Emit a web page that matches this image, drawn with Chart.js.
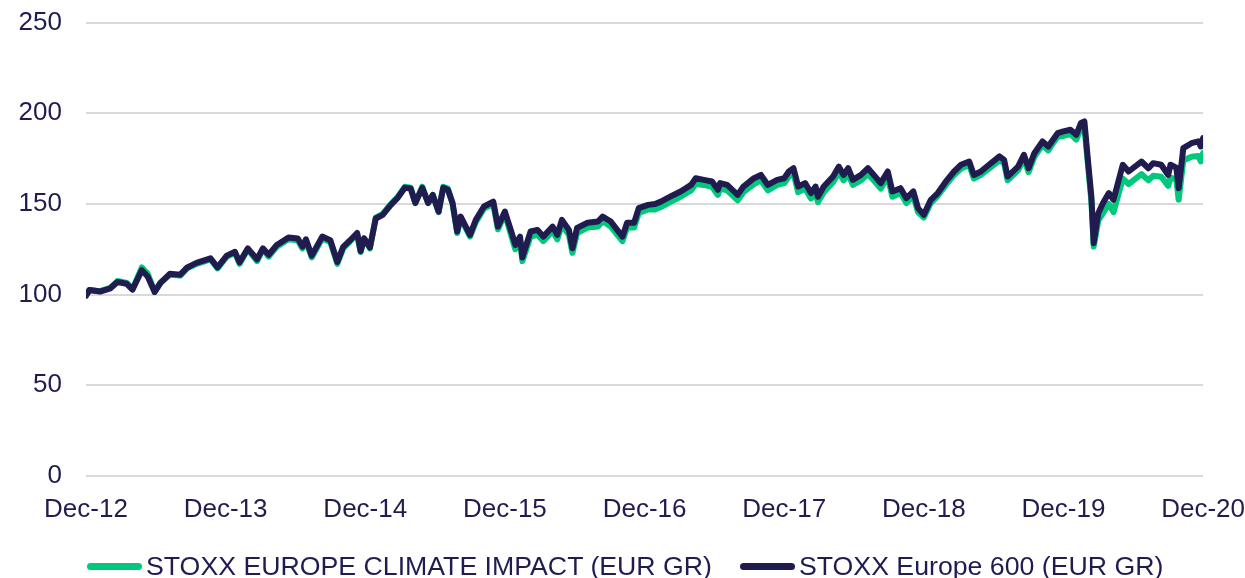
<!DOCTYPE html>
<html>
<head>
<meta charset="utf-8">
<script src="https://cdn.jsdelivr.net/npm/chart.js@4/dist/chart.umd.min.js"></script>
<style>
  html, body { margin: 0; padding: 0; background: #fff; overflow: hidden; }
  #page { position: relative; width: 1245px; height: 578px; overflow: hidden; }
  #wrap { position: absolute; left: 0; top: -17px; width: 1263px; height: 595px; }
  #legend {
    position: absolute; left: 87px; top: 551px;
    display: flex; align-items: center;
    font-family: 'Liberation Sans', Arial, sans-serif; font-size: 26.7px; color: #201c50;
    white-space: nowrap;
  }
  .item { display: flex; align-items: center; margin-right: 28px; }
  .swatch { display: inline-block; width: 55px; height: 7px; border-radius: 4px; margin-right: 4px; }
</style>
</head>
<body>
<div id="page">
  <div id="wrap"><canvas id="perfChart"></canvas></div>
  <div id="legend"></div>
</div>
<script>
// months since Dec-12
const months = [0, 0.3, 1.2, 2.1, 2.7, 3.5, 4.0, 4.8, 5.3, 5.9, 6.4, 7.2, 8.1, 8.7, 9.5, 10.7, 11.3,
  12.1, 12.8, 13.2, 13.9, 14.7, 15.2, 15.7, 16.4, 17.4, 18.2, 18.6, 18.9, 19.4, 20.3, 21.0, 21.6, 22.1, 22.7, 23.3, 23.6, 23.9,
  24.4, 24.9, 25.5, 26.2, 26.8, 27.4, 27.9, 28.3, 28.9, 29.4, 29.8, 30.3, 30.7, 31.1, 31.5, 31.9, 32.2, 33.0, 33.5, 34.2, 35.0, 35.4,
  36.0, 36.5, 36.9, 37.3, 37.5, 38.2, 38.8, 39.3, 40.1, 40.5, 40.9, 41.5, 41.8, 42.2, 43.1, 44.0, 44.4, 45.1, 46.1, 46.5, 47.1, 47.5,
  48.3, 48.9, 49.4, 50.2, 51.1, 52.0, 52.4, 53.1, 53.8, 54.3, 54.5, 55.1, 56.0, 56.5, 57.4, 58.0, 58.6, 59.4,
  60.0, 60.4, 60.8, 61.2, 61.8, 62.3, 62.7, 62.9, 63.4, 64.2, 64.7, 65.1, 65.5, 65.9, 66.6, 67.2, 67.7, 68.3, 68.9, 69.3, 70.0, 70.5, 71.1, 71.5,
  72.0, 72.6, 73.2, 73.9, 74.6, 75.2, 75.9, 76.3, 76.9, 77.6, 78.5, 78.9, 79.2, 80.1, 80.6, 81.0, 81.5, 82.2, 82.7, 83.1, 83.5,
  84.0, 84.6, 85.1, 85.5, 85.8, 86.1, 86.4, 86.6, 87.0, 87.4, 87.9, 88.3, 89.1, 89.6, 90.7, 91.3, 91.7, 92.4, 93.0, 93.2, 93.7, 93.9,
  94.3, 95.0, 95.6, 95.8, 96.0];

const climateImpact = [99.5, 102.6, 101.9, 103.8, 107.5, 106.5, 103, 115, 111.5, 101.5, 106.5, 111, 110.5, 114.5, 117, 119.5, 114.5,
  121, 123, 117, 125, 118.5, 125, 121, 126.5, 130.5, 130, 125.5, 129.5, 120.5, 131, 129, 117, 125.5, 129.5, 133.5, 123.5, 131,
  125.5, 142.5, 144.5, 150, 154, 159.5, 159, 150.5, 159.5, 150.5, 155, 145.5, 159.5, 158.5, 150, 134, 142.5, 132, 140, 147.5, 150, 136,
  144.5, 133.5, 125, 129.5, 118.5, 132, 133, 129.5, 135, 130.5, 138.5, 133, 123, 134, 137, 137.5, 140.5, 137.5, 129.5, 137, 137, 145,
  147, 147, 148.3, 151, 154, 157.5, 161, 160.5, 159.5, 155, 158.5, 157.5, 152, 156.5, 161, 163, 157.5, 160.5,
  161.5, 165, 167, 156.5, 158.5, 153, 156.5, 151, 156.5, 162, 167.5, 163, 166.5, 160.5, 163, 166.5, 163, 158.5, 165, 154, 156, 150.5, 154.5, 145.5,
  142.5, 150.5, 154.5, 160.5, 166, 169.5, 171.5, 164, 166, 169.5, 174, 172.5, 163, 168.5, 175, 167.5, 176, 182.5, 179.5, 183.5, 187,
  187.5, 188.5, 185.5, 191.5, 192.5, 172, 151.5, 126.5, 141, 145, 150, 145.5, 164, 161, 166.5, 163, 165.5, 165, 160, 164.5, 163.5, 152.3,
  174, 176, 176.5, 173.5, 178];

const europe600 = [99.5, 102.6, 101.7, 103.5, 107, 106, 102.8, 113.5, 110, 101.5, 106.5, 111.5, 111, 115, 117.5, 120, 115,
  121.5, 123.6, 117.8, 125.5, 119.5, 125.5, 122, 127.4, 131.5, 131, 126.5, 130.5, 121.5, 132, 130, 118, 126.3, 130, 134, 124, 131,
  126, 142, 144, 149.5, 153.5, 158.9, 158.5, 150.6, 158.9, 150.6, 155, 145.8, 158.9, 157.8, 150.6, 134.8, 143, 133, 141.2, 148.6, 151.3, 137.5,
  145.8, 135.7, 127.4, 132, 120.5, 134.8, 135.7, 132, 137.5, 133, 141.2, 135.7, 125.6, 136.8, 139.6, 140.3, 143, 140.3, 132, 139.6, 139.6, 147.7,
  149.5, 150, 151.3, 154, 156.9, 160.5, 164.2, 163.3, 162.4, 157.8, 161.5, 160.5, 155, 159.6, 164.2, 166, 160.5, 163.3,
  164.2, 167.9, 169.7, 159.6, 161.5, 156, 159.6, 154, 159.6, 165.1, 170.6, 166, 169.7, 163.3, 166, 169.7, 166, 161.5, 167.9, 156.9, 158.7, 153.2, 156.9, 147.7,
  144, 152.3, 156, 162.4, 167.9, 171.6, 173.4, 166, 167.9, 171.6, 176.2, 174.3, 165.1, 170.6, 177.1, 169.7, 178, 184.5, 181.7, 185.4, 189,
  190, 190.9, 188.1, 194.6, 195.5, 174.3, 154, 128.4, 145, 150.5, 156, 152.3, 171.6, 167.9, 173.4, 169.7, 172.5, 171.6, 166, 171.6, 170, 158.7,
  180.8, 183.5, 184.5, 181.7, 186.3];

const tickLabels = ['Dec-12', 'Dec-13', 'Dec-14', 'Dec-15', 'Dec-16', 'Dec-17', 'Dec-18', 'Dec-19', 'Dec-20'];
const seriesNames = ['STOXX EUROPE CLIMATE IMPACT (EUR GR)', 'STOXX Europe 600 (EUR GR)'];
const colors = ['#00c97b', '#201c50'];
const textColor = '#201c50';

function toPoints(values) {
  return values.map((v, i) => ({ x: months[i], y: v }));
}

Chart.defaults.font.family = "'Liberation Sans', Arial, sans-serif";
Chart.defaults.font.size = 26;
Chart.defaults.color = textColor;

const ctx = document.getElementById('perfChart').getContext('2d');
const chart = new Chart(ctx, {
  type: 'line',
  data: {
    datasets: [
      {
        label: seriesNames[0],
        data: toPoints(climateImpact),
        borderColor: colors[0],
        borderWidth: 6,
        pointRadius: 0,
        tension: 0,
        borderJoinStyle: 'round',
        borderCapStyle: 'round',
        order: 1
      },
      {
        label: seriesNames[1],
        data: toPoints(europe600),
        borderColor: colors[1],
        borderWidth: 6,
        pointRadius: 0,
        tension: 0,
        borderJoinStyle: 'round',
        borderCapStyle: 'round',
        order: 0
      }
    ]
  },
  options: {
    responsive: true,
    maintainAspectRatio: false,
    animation: false,
    layout: { padding: { top: 6, right: 24, left: 0, bottom: 0 } },
    plugins: { legend: { display: false }, tooltip: { enabled: false } },
    scales: {
      x: {
        type: 'linear',
        min: 0,
        max: 96,
        grid: { display: false, drawTicks: false },
        border: { display: false },
        ticks: {
          stepSize: 12,
          autoSkip: false,
          maxRotation: 0,
          padding: 18,
          color: textColor,
          callback: (v) => tickLabels[v / 12]
        },
        afterFit: (scale) => { scale.height = 102; }
      },
      y: {
        min: 0,
        max: 250,
        grid: { color: '#d9d9d9', lineWidth: 2, drawTicks: false },
        border: { display: false },
        ticks: { stepSize: 50, padding: 24, color: textColor },
        afterFit: (scale) => { scale.width = 86; }
      }
    }
  }
});

// legend below the chart
const legend = document.getElementById('legend');
seriesNames.forEach((name, i) => {
  const item = document.createElement('div');
  item.className = 'item';
  const sw = document.createElement('span');
  sw.className = 'swatch';
  sw.style.background = colors[i];
  const label = document.createElement('span');
  label.innerText = name;
  item.appendChild(sw);
  item.appendChild(label);
  legend.appendChild(item);
});
</script>
</body>
</html>
